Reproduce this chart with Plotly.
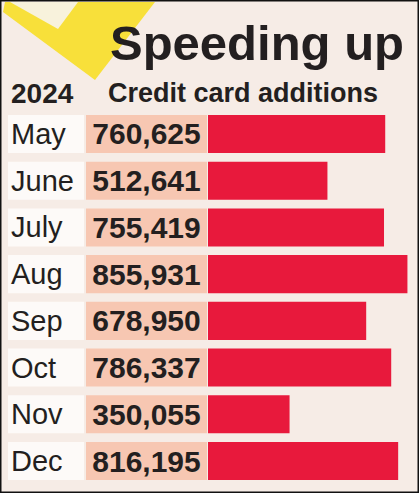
import plotly.graph_objects as go

W, H = 419, 493

months = ["May", "June", "July", "Aug", "Sep", "Oct", "Nov", "Dec"]
additions = [760625, 512641, 755419, 855931, 678950, 786337, 350055, 816195]
year_label = "2024"
title_text = "Speeding up"
subtitle_text = "Credit card additions"

BG = "#f6ece6"
RED = "#e8193c"
PEACH = "#f7c7b2"
WHITE_CELL = "#fdfaf8"
INK = "#231f20"


def px(x, y):
    # pixel position -> paper coordinates
    return x / W, 1 - y / H


def path(points):
    out = []
    for i, (x, y) in enumerate(points):
        a, b = px(x, y)
        out.append(("M" if i == 0 else "L") + f"{a:.4f},{b:.4f}")
    return " ".join(out) + " Z"


fig = go.Figure()

# month cells
fig.add_trace(go.Bar(
    y=months, x=[1] * len(months), orientation="h",
    xaxis="x2", yaxis="y",
    marker=dict(color=WHITE_CELL, line=dict(width=0)),
    text=months, textposition="inside", insidetextanchor="start",
    constraintext="none",
    textfont=dict(family="Liberation Sans, Arial", size=29, color=INK),
    hoverinfo="skip", showlegend=False,
))

# number cells
fig.add_trace(go.Bar(
    y=months, x=[1] * len(months), orientation="h",
    xaxis="x3", yaxis="y",
    marker=dict(color=PEACH, line=dict(width=0)),
    text=[f"{v:,}" for v in additions], textposition="inside",
    insidetextanchor="middle", constraintext="none",
    textfont=dict(family="Liberation Sans, Arial", size=30, color=INK, weight="bold"),
    hoverinfo="skip", showlegend=False,
))

# the actual bars
fig.add_trace(go.Bar(
    y=months, x=additions, orientation="h",
    xaxis="x", yaxis="y",
    marker=dict(color=RED, line=dict(width=0)),
    hovertemplate="%{y}: %{x:,}<extra></extra>", showlegend=False,
))

y_top, y_bot = 110.6, 484.4
hidden = dict(visible=False, fixedrange=True)

fig.update_layout(
    width=W, height=H,
    margin=dict(l=0, r=0, t=0, b=0),
    paper_bgcolor=BG, plot_bgcolor="rgba(0,0,0,0)",
    bargap=0.186,
    xaxis=dict(domain=[208 / W, 1], range=[0, 905600], anchor="y", **hidden),
    xaxis2=dict(domain=[8 / W, 84 / W], range=[0, 1], anchor="y", **hidden),
    xaxis3=dict(domain=[86 / W, 207 / W], range=[0, 1], anchor="y", **hidden),
    yaxis=dict(domain=[1 - y_bot / H, 1 - y_top / H], autorange="reversed",
               type="category", **hidden),
    shapes=[
        # yellow card in the corner
        dict(type="path", xref="paper", yref="paper", layer="below",
             path=path([(3, 12), (5, 2), (155, 2), (95, 80)]),
             fillcolor="#f8e03a", line=dict(width=0)),
        dict(type="path", xref="paper", yref="paper", layer="below",
             path=path([(10, 2), (78, 2), (58, 29)]),
             fillcolor="#f8f2dc", line=dict(width=0)),
        # frame
        dict(type="rect", xref="paper", yref="paper", x0=0, x1=1, y0=0, y1=1,
             line=dict(color="#111", width=3)),
    ],
    annotations=[
        dict(text=title_text, x=px(406, 0)[0], y=px(0, 43)[1], xref="paper", yref="paper",
             xanchor="right", yanchor="middle", showarrow=False,
             font=dict(family="Liberation Sans, Arial", size=49, color=INK, weight="bold")),
        dict(text=year_label, x=px(9, 0)[0], y=px(0, 94)[1], xref="paper", yref="paper",
             xanchor="left", yanchor="middle", showarrow=False,
             font=dict(family="Liberation Sans, Arial", size=28, color=INK, weight="bold")),
        dict(text=subtitle_text, x=px(106, 0)[0], y=px(0, 93)[1], xref="paper", yref="paper",
             xanchor="left", yanchor="middle", showarrow=False,
             font=dict(family="Liberation Sans, Arial", size=27, color=INK, weight="bold")),
    ],
)

fig.write_html("out.html", config={"displayModeBar": False},
               post_script="document.body.style.margin='0';document.body.style.overflow='hidden';")
